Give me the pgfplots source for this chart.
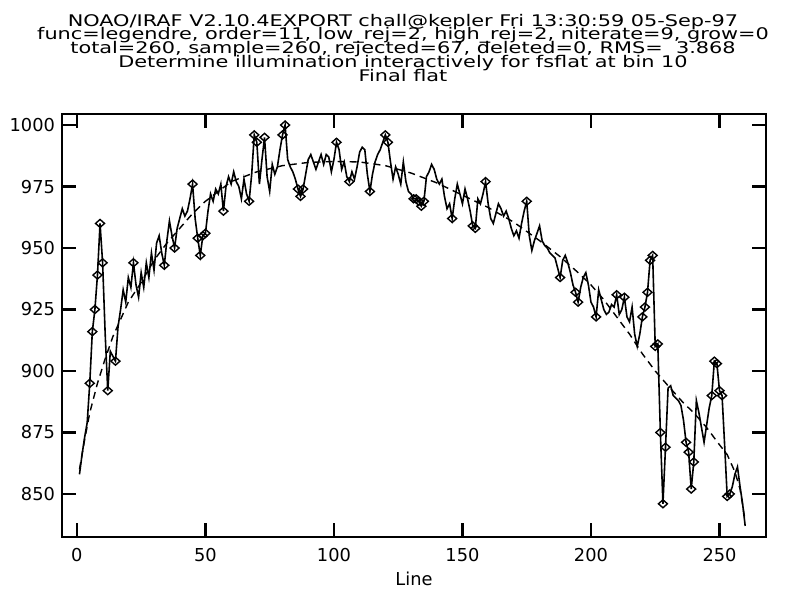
\documentclass[border=0pt]{standalone}
\usepackage{pgfplots}
\pgfplotsset{compat=1.18}
\usepackage{pgfplotstable}
\usepackage{fontspec}
\setmainfont{DejaVu Sans}
\newcommand\pf{\fontsize{8.9bp}{10bp}\selectfont}

\pgfplotstableread{
x y
1 858
2 866
3 873
4 879
5 895
6 916
7 925
8 939
9 960
10 944
11 915
12 892
13 908
14 906
15 904
16 918
17 925
18 933
19 928
20 938
21 934
22 944
23 935
24 930
25 940
26 934
27 944
28 938
29 948
30 941
31 952
32 955
33 948
34 943
35 953
36 961
37 955
38 950
39 958
40 962
41 966
42 963
43 965
44 970
45 976
46 962
47 954
48 947
49 955
50 956
51 965
52 972
53 969
54 974
55 972
56 976
57 965
58 975
59 979
60 976
61 981
62 977
63 975
64 970
65 978
66 972
67 969
68 980
69 996
70 993
71 976
72 986
73 995
74 979
75 973
76 984
77 980
78 983
79 990
80 996
81 1000
82 986
83 983
84 981
85 978
86 974
87 971
88 974
89 980
90 986
91 988
92 985
93 982
94 985
95 988
96 984
97 988
98 987
99 981
100 986
101 993
102 990
103 982
104 985
105 979
106 977
107 981
108 978
109 983
110 989
111 991
112 990
113 980
114 973
115 980
116 985
117 988
118 990
119 993
120 996
121 993
122 985
123 978
124 983
125 980
126 976
127 985
128 977
129 973
130 972
131 970
132 970
133 969
134 967
135 969
136 979
137 981
138 984
139 982
140 978
141 976
142 978
143 971
144 966
145 968
146 962
147 970
148 976
149 972
150 968
151 974
152 970
153 965
154 959
155 958
156 970
157 968
158 972
159 977
160 968
161 962
162 960
163 964
164 968
165 966
166 963
167 965
168 962
169 958
170 955
171 957
172 954
173 960
174 965
175 969
176 955
177 949
178 953
179 956
180 959
181 953
182 951
183 950
184 948
185 947
186 946
187 942
188 938
189 945
190 947
191 944
192 940
193 935
194 932
195 928
196 934
197 938
198 940
199 935
200 928
201 926
202 922
203 933
204 929
205 925
206 923
207 924
208 927
209 926
210 931
211 923
212 925
213 930
214 922
215 920
216 926
217 915
218 910
219 915
220 922
221 926
222 932
223 945
224 947
225 910
226 911
227 875
228 846
229 869
230 893
231 894
232 890
233 889
234 888
235 886
236 880
237 871
238 867
239 852
240 863
241 888
242 883
243 877
244 871
245 878
246 885
247 890
248 904
249 903
250 892
251 890
252 870
253 849
254 850
255 853
256 858
257 861
258 853
259 846
260 837
}\datatable

\pgfplotstableread{
x y
5 895
6 916
7 925
8 939
9 960
10 944
12 892
15 904
22 944
34 943
38 950
45 976
47 954
48 947
49 955
50 956
57 965
67 969
69 996
70 993
73 995
80 996
81 1000
86 974
87 971
88 974
101 993
106 977
114 973
120 996
121 993
131 970
132 970
133 969
134 967
135 969
146 962
154 959
155 958
159 977
175 969
188 938
194 932
195 928
202 922
210 931
213 930
220 922
221 926
222 932
223 945
224 947
225 910
226 911
227 875
228 846
229 869
237 871
238 867
239 852
240 863
247 890
248 904
249 903
250 892
251 890
253 849
254 850
}\rejtable

\pgfplotstableread{
x y
1 860
3 872
5 883
8 895
11 905
14 914
17 921
20 928
25 936
30 945
35 952
40 958
45 964
50 969
55 973
60 977
70 981
80 983.5
90 984.8
100 985.2
110 985
120 983.5
130 980.5
140 976.5
150 971.5
160 966.5
170 960.5
180 953
188 946.5
195 940
200 935
205 929
210 922
215 915
220 907
225 900
230 894
236 887
240 883
245 877
250 870
253 866
256 859
258 852
260 839
}\fittable

\begin{document}
\begin{tikzpicture}
\useasboundingbox (-31bp,-27.5bp) rectangle (364bp,268.5bp);
\begin{axis}[at={(0,0)}, anchor=south west, scale only axis,
  width=352bp, height=211.5bp,
  xmin=-5.8, xmax=268.1, ymin=832.5, ymax=1004.5,
  xtick={0,50,...,250}, ytick={850,875,...,1000},
  minor tick num=0,
  tick align=inside, major tick length=7bp,
  xtick pos=both, ytick pos=both,
  axis line style={line width=1.2bp},
  every tick/.style={line width=1.2bp, black},
  tick label style={font=\pf},
  /pgf/number format/assume math mode=true,
  /pgf/number format/1000 sep={},
  xticklabel style={yshift=-2bp},
]
\addplot[black, line width=0.8bp, mark=none] table[x=x,y=y] {\datatable};
\addplot[black, line width=0.7bp, dash pattern=on 3.5bp off 2.5bp, mark=none] table[x=x,y=y] {\fittable};
\addplot[only marks, mark=diamond, mark size=2bp, mark options={xscale=1.5, line width=0.7bp, fill=white, draw=black}] table[x=x,y=y] {\rejtable};
\end{axis}
\node[anchor=base, inner sep=0pt] at (170.5bp,227.65bp) {\scalebox{1.17}[0.9]{\vbox{\pf\hsize=400bp\parindent=0pt\parskip=0pt\centering
\baselineskip=7.73bp\lineskiplimit=-50bp
NOAO/IRAF V2.10.4EXPORT chall@kepler Fri 13:30:59 05-Sep-97\\
func=legendre, order=11, low\_rej=2, high\_rej=2, niterate=9, grow=0\\
total=260, sample=260, rejected=67, deleted=0, RMS=\ \ 3.868\\
Determine illumination interactively for fsflat at bin 10\\
Final flat\par}}};
\node[font=\pf, anchor=base] at (176bp,-24bp) {Line};
\end{tikzpicture}
\end{document}
